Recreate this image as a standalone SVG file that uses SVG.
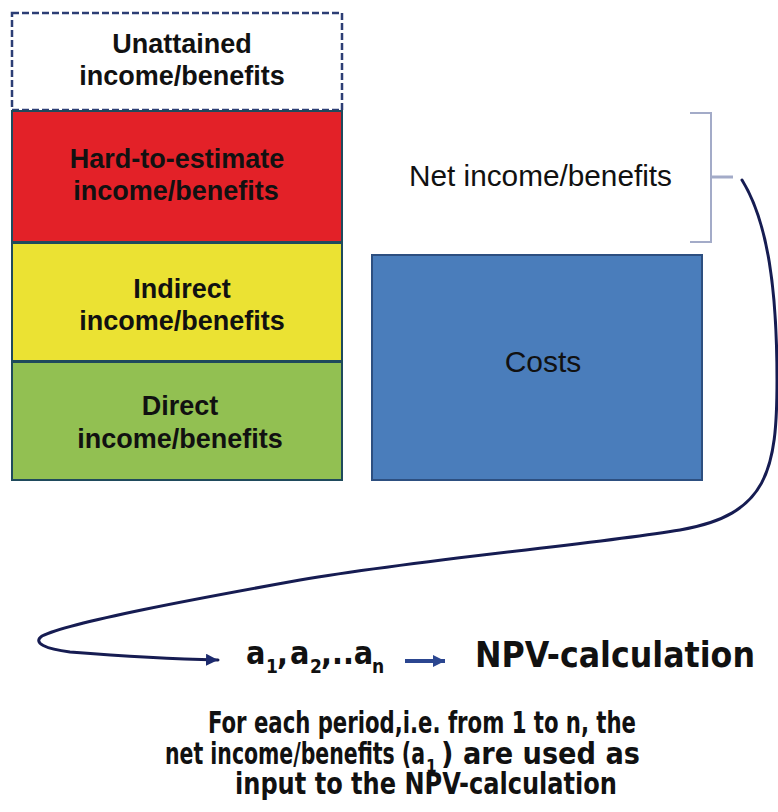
<svg xmlns="http://www.w3.org/2000/svg" width="778" height="812" viewBox="0 0 778 812">
<defs>
<style>
.lbl{font-family:"Liberation Sans",Arial,sans-serif;font-weight:bold;font-size:27px;fill:#111;text-anchor:middle}
.reg{font-family:"Liberation Sans",Arial,sans-serif;font-size:30px;fill:#111}
.tah{font-family:"DejaVu Sans",Verdana,sans-serif;font-weight:bold;font-stretch:condensed;fill:#111}
.box{stroke:#1f4a5c;stroke-width:2}
.conn{fill:none;stroke:#161c52;stroke-width:3;stroke-linecap:round}
</style>
<marker id="ah" markerUnits="userSpaceOnUse" markerWidth="14" markerHeight="14" refX="12" refY="6" orient="auto">
<path d="M0,0 L12,6 L0,12 z" fill="#1c2a6e"/>
</marker>
<marker id="ah2" markerUnits="userSpaceOnUse" markerWidth="14" markerHeight="14" refX="12" refY="6" orient="auto">
<path d="M0,0 L12,6 L0,12 z" fill="#2b4690"/>
</marker>
</defs>
<rect width="778" height="812" fill="#ffffff"/>

<g id="unattained">
<rect x="12" y="13" width="330" height="97" fill="#ffffff" stroke="#2c3e75" stroke-width="2.5" stroke-dasharray="7 3"/>
<text class="lbl" x="182" y="53">Unattained</text>
<text class="lbl" x="182" y="85">income/benefits</text>
</g>

<g id="hard">
<rect class="box" x="12" y="111" width="330" height="131" fill="#e32128"/>
<text class="lbl" x="177" y="168">Hard-to-estimate</text>
<text class="lbl" x="176" y="200">income/benefits</text>
</g>

<g id="indirect">
<rect class="box" x="12" y="243" width="330" height="118" fill="#ebe233"/>
<text class="lbl" x="182" y="298">Indirect</text>
<text class="lbl" x="182" y="330">income/benefits</text>
</g>

<g id="direct">
<rect class="box" x="12" y="362" width="330" height="118" fill="#92c052"/>
<text class="lbl" x="180" y="415">Direct</text>
<text class="lbl" x="180" y="448">income/benefits</text>
</g>

<g id="costs">
<rect x="372" y="255" width="330" height="225" fill="#4a7dbb" stroke="#2d4f80" stroke-width="2"/>
<text class="reg" x="543" y="372" text-anchor="middle" font-size="28">Costs</text>
</g>

<g id="net">
<text class="reg" x="409" y="186" textLength="263" lengthAdjust="spacingAndGlyphs">Net income/benefits</text>
<path d="M690,113 H711 V242 H690" fill="none" stroke="#a3abc8" stroke-width="2"/>
<path d="M711,177 H733" fill="none" stroke="#a3abc8" stroke-width="3"/>
</g>

<g id="connectors">
<path class="conn" d="M742,180 C768,222 777,290 777,380 C777,470 768,515 680,530 C590,545 430,558 300,580 C200,598 70,622 42,636 C32,643 46,649 70,652 C120,656 170,659 218,660" marker-end="url(#ah)"/>
<path d="M405,661 H445" fill="none" stroke="#2b4690" stroke-width="4" marker-end="url(#ah2)"/>
</g>

<g id="series">
<text class="tah" y="664" font-size="32"><tspan x="246">a</tspan><tspan x="266" dy="9" font-size="19">1</tspan><tspan x="277" dy="-9">,</tspan><tspan x="290">a</tspan><tspan x="310" dy="9" font-size="19">2</tspan><tspan x="321" dy="-9">,..a</tspan><tspan x="372" dy="9" font-size="19">n</tspan></text>
</g>

<g id="npv">
<text class="tah" x="475" y="667" font-size="35" textLength="280" lengthAdjust="spacingAndGlyphs">NPV-calculation</text>
</g>

<g id="caption">
<text class="tah" x="208" y="733" font-size="31" textLength="428" lengthAdjust="spacingAndGlyphs">For each period,i.e. from 1 to n, the</text>
<text class="tah" x="165" y="764" font-size="31" textLength="260" lengthAdjust="spacingAndGlyphs">net income/benefits (a</text>
<text class="tah" x="426" y="772" font-size="17">1</text>
<text class="tah" x="441" y="764" font-size="31" textLength="199" lengthAdjust="spacingAndGlyphs">) are used as</text>
<text class="tah" x="235" y="794" font-size="31" textLength="382" lengthAdjust="spacingAndGlyphs">input to the NPV-calculation</text>
</g>
</svg>
